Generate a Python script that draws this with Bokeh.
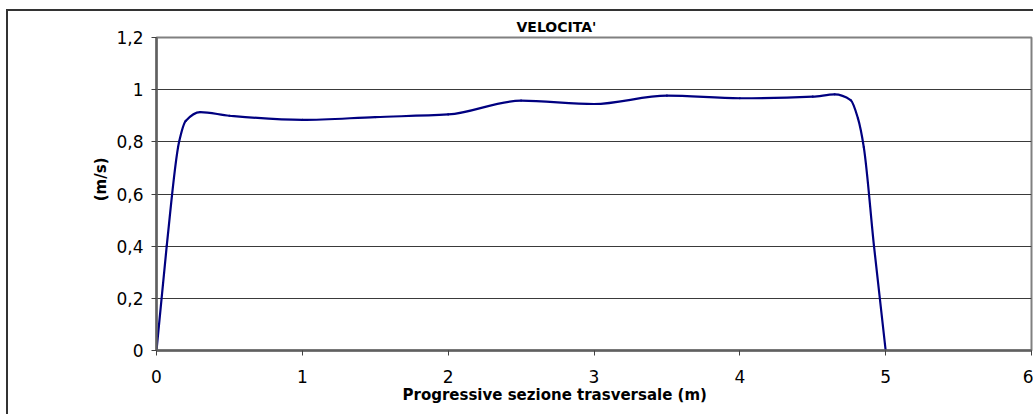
import numpy as np
from bokeh.plotting import figure
from bokeh.models import (FixedTicker, CustomJSTickFormatter, Range1d, Title,
                          ColumnDataSource)
from bokeh.embed import file_html
from bokeh.resources import INLINE

# Velocity profile across the cross-section
position_m = [0.0, 0.07, 0.155, 0.2, 0.3, 0.5, 1.0, 1.5, 2.0, 2.5, 3.0, 3.5,
              4.0, 4.5, 4.65, 4.76, 4.81, 4.85, 4.92, 5.0]
velocity_ms = [0.0, 0.40, 0.80, 0.88, 0.914, 0.90, 0.884, 0.895, 0.905,
               0.958, 0.945, 0.977, 0.967, 0.973, 0.982, 0.96, 0.89, 0.78,
               0.40, 0.0]

x_ticks = [0, 1, 2, 3, 4, 5, 6]
y_ticks = [0, 0.2, 0.4, 0.6, 0.8, 1.0, 1.2]

title_text = "VELOCITA'"
x_title = "Progressive sezione trasversale (m)"
y_title = "(m/s)"

FONT = "DejaVu Sans"


def pchip_slopes(x, y):
    """Shape-preserving (Fritsch-Carlson) tangents for a smooth curve."""
    x = np.asarray(x, float)
    y = np.asarray(y, float)
    h = np.diff(x)
    d = np.diff(y) / h
    n = len(x)
    m = np.zeros(n)
    for k in range(1, n - 1):
        if d[k - 1] * d[k] > 0:
            w1 = 2 * h[k] + h[k - 1]
            w2 = h[k] + 2 * h[k - 1]
            m[k] = (w1 + w2) / (w1 / d[k - 1] + w2 / d[k])

    def end(h0, h1, d0, d1):
        s = ((2 * h0 + h1) * d0 - h0 * d1) / (h0 + h1)
        if np.sign(s) != np.sign(d0):
            return 0.0
        if np.sign(d0) != np.sign(d1) and abs(s) > 3 * abs(d0):
            return 3 * d0
        return s

    m[0] = end(h[0], h[1], d[0], d[1])
    m[-1] = end(h[-1], h[-2], d[-1], d[-2])
    return m


xs = np.asarray(position_m, float)
ys = np.asarray(velocity_ms, float)
slopes = pchip_slopes(xs, ys)
hs = np.diff(xs)

seg = ColumnDataSource(dict(
    x0=xs[:-1], y0=ys[:-1], x1=xs[1:], y1=ys[1:],
    cx0=xs[:-1] + hs / 3, cy0=ys[:-1] + slopes[:-1] * hs / 3,
    cx1=xs[1:] - hs / 3, cy1=ys[1:] - slopes[1:] * hs / 3,
))

p = figure(width=1033, height=414, output_backend="svg", toolbar_location=None,
           x_range=Range1d(0, 6), y_range=Range1d(0, 1.2),
           min_border_left=156, min_border_right=2,
           min_border_top=37, min_border_bottom=64)
p.background_fill_color = "white"
p.border_fill_alpha = 0
p.outline_line_color = "#808080"
p.outline_line_width = 2

# outer chart border (left and top edges) drawn behind the transparent border area
p.styles = {
    "background-color": "white",
    "background-image": "linear-gradient(#333333, #333333), "
                        "linear-gradient(#333333, #333333)",
    "background-size": "2px 100%, 100% 2px",
    "background-position": "6px 9px, 6px 9px",
    "background-repeat": "no-repeat",
}

p.bezier(x0="x0", y0="y0", x1="x1", y1="y1", cx0="cx0", cy0="cy0",
         cx1="cx1", cy1="cy1", source=seg,
         line_color="#000080", line_width=2.2, line_cap="round")

fmt = CustomJSTickFormatter(code="""
    return Number(tick.toFixed(1)).toString().replace('.', ',');
""")

for ax, ticks in ((p.xaxis[0], x_ticks), (p.yaxis[0], y_ticks)):
    ax.ticker = FixedTicker(ticks=ticks)
    ax.formatter = fmt
    ax.minor_tick_line_color = None
    ax.major_tick_in = 0
    ax.major_tick_out = 5
    ax.major_tick_line_color = "#404040"
    ax.major_tick_line_width = 1
    ax.axis_line_color = "#606060"
    ax.axis_line_width = 2.5
    ax.major_label_text_font = FONT
    ax.major_label_text_font_size = "17px"
    ax.major_label_text_color = "black"

p.xaxis.major_label_standoff = 14
p.yaxis.major_label_standoff = 8

p.xgrid.grid_line_color = None
p.ygrid.ticker = FixedTicker(ticks=y_ticks[1:-1])
p.ygrid.grid_line_color = "#3a3a3a"
p.ygrid.grid_line_width = 1

p.title.text = title_text
p.title.align = "left"
p.title.offset = 360
p.title.text_font = FONT
p.title.text_font_style = "bold"
p.title.text_font_size = "14px"
p.title.text_color = "black"
p.title.standoff = 5

p.add_layout(Title(text=x_title, align="left", offset=246, text_font=FONT,
                   text_font_style="bold", text_font_size="15px",
                   text_color="black", standoff=-4), "below")
p.add_layout(Title(text=y_title, align="right", offset=120, text_font=FONT,
                   text_font_style="bold", text_font_size="15px",
                   text_color="black", standoff=8), "left")

open("out.html", "w").write(file_html(p, INLINE))
